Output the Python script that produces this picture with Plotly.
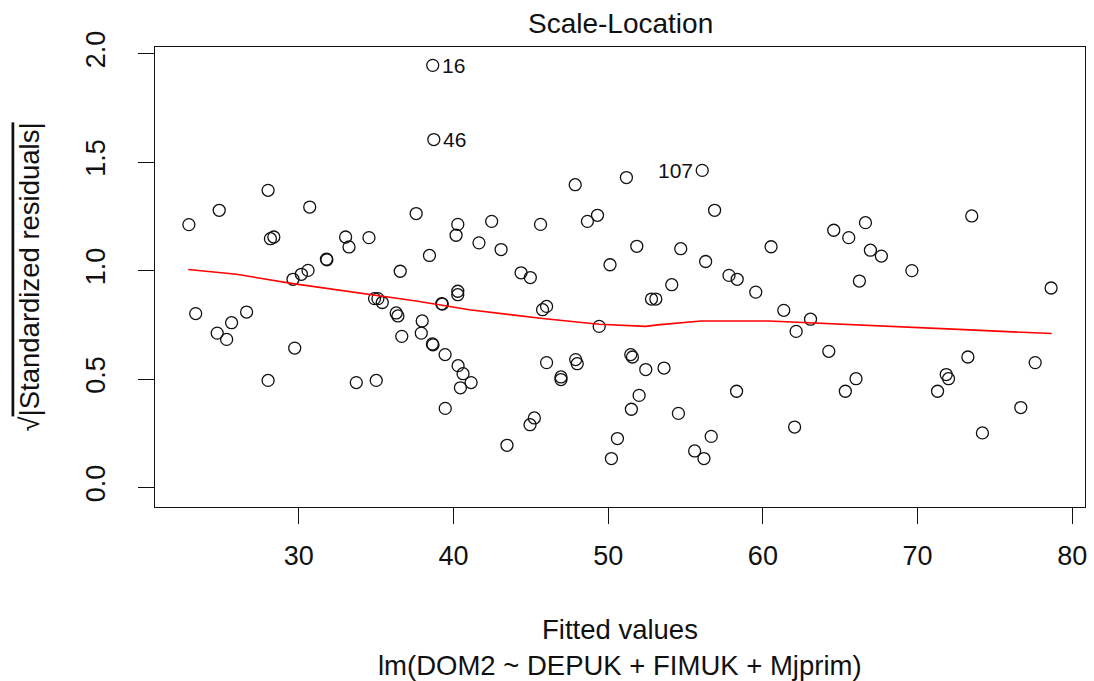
import plotly.graph_objects as go

# Fitted values (x) and sqrt(|standardized residuals|) (y)
fitted = [22.90, 23.34, 24.73, 24.86, 25.34, 25.66, 26.63, 28.02, 28.02, 28.17,
          28.39, 29.63, 29.74, 30.17, 30.60, 30.71, 31.79, 31.82, 33.03, 33.25,
          33.72, 34.54, 34.90, 35.01, 35.12, 35.40, 36.30, 36.41, 36.56, 36.66,
          37.59, 37.92, 37.98, 38.45, 38.64, 38.68, 38.66, 38.73, 39.24, 39.28,
          39.46, 39.47, 40.17, 40.28, 40.28, 40.28, 40.30, 40.45, 40.62, 41.14,
          41.65, 42.47, 43.08, 43.46, 44.37, 44.95, 44.97, 45.23, 45.63, 45.76,
          46.02, 46.02, 46.95, 46.95, 47.87, 47.90, 48.00, 48.66, 49.31, 49.42,
          50.12, 50.21, 50.60, 51.18, 51.46, 51.50, 51.57, 51.85, 52.00, 52.43,
          52.80, 53.08, 53.61, 54.11, 54.54, 54.69, 55.59, 56.08, 56.19, 56.30,
          56.66, 56.88, 57.81, 58.30, 58.34, 59.54, 60.53, 61.35, 62.05, 62.15,
          63.08, 64.26, 64.58, 65.33, 65.55, 66.02, 66.24, 66.63, 66.95, 67.66,
          69.63, 71.29, 71.85, 72.00, 73.25, 73.50, 74.19, 76.67, 77.60, 78.63]
sqrt_std_resid = [1.212, 0.802, 0.712, 1.278, 0.683, 0.760, 0.809, 1.370, 0.494, 1.147,
                  1.155, 0.960, 0.643, 0.983, 1.001, 1.293, 1.053, 1.050, 1.155, 1.109,
                  0.484, 1.152, 0.871, 0.494, 0.871, 0.853, 0.805, 0.791, 0.997, 0.697,
                  1.263, 0.712, 0.768, 1.070, 0.662, 0.658, 1.946, 1.604, 0.848, 0.846,
                  0.613, 0.365, 1.163, 1.213, 0.905, 0.889, 0.562, 0.460, 0.525, 0.484,
                  1.128, 1.227, 1.097, 0.195, 0.990, 0.290, 0.968, 0.321, 1.213, 0.820,
                  0.835, 0.576, 0.510, 0.498, 1.396, 0.590, 0.571, 1.227, 1.255, 0.743,
                  1.027, 0.134, 0.226, 1.429, 0.613, 0.361, 0.602, 1.112, 0.425, 0.544,
                  0.869, 0.869, 0.551, 0.935, 0.342, 1.101, 0.169, 1.462, 0.134, 1.042,
                  0.236, 1.278, 0.978, 0.444, 0.960, 0.901, 1.110, 0.817, 0.279, 0.720,
                  0.776, 0.628, 1.186, 0.444, 1.152, 0.502, 0.952, 1.221, 1.094, 1.067,
                  1.000, 0.444, 0.521, 0.502, 0.602, 1.252, 0.252, 0.369, 0.576, 0.920]

# Smoother (lowess) line
smooth_x = [22.86, 25.98, 29.63, 34.15, 37.59, 41.03, 45.76, 49.42, 52.43, 53.20,
            54.80, 56.00, 60.39, 65.33, 68.67, 72.65, 75.44, 78.67]
smooth_y = [1.005, 0.983, 0.940, 0.894, 0.860, 0.820, 0.779, 0.753, 0.743, 0.750,
            0.760, 0.768, 0.768, 0.751, 0.740, 0.729, 0.720, 0.710]

# Labelled observations
label_names = ["16", "46", "107"]
label_x = [38.66, 38.73, 56.08]
label_y = [1.946, 1.604, 1.462]
label_side = ["right", "right", "left"]

x_ticks = [30, 40, 50, 60, 70, 80]
y_ticks = [0.0, 0.5, 1.0, 1.5, 2.0]

FONT = "Liberation Sans, Arial, sans-serif"
INK = "#111111"

fig = go.Figure()
fig.add_trace(go.Scatter(
    x=fitted, y=sqrt_std_resid, mode="markers",
    marker=dict(symbol="circle-open", size=12, color=INK, line=dict(width=1.3, color=INK)),
    showlegend=False, hoverinfo="x+y"))
fig.add_trace(go.Scatter(
    x=smooth_x, y=smooth_y, mode="lines",
    line=dict(color="#ff0000", width=1.6), showlegend=False, hoverinfo="skip"))

annotations = []
for name, lx, ly, side in zip(label_names, label_x, label_y, label_side):
    annotations.append(dict(
        x=lx, y=ly, xref="x", yref="y", text=name, showarrow=False,
        xanchor="left" if side == "right" else "right",
        xshift=7 if side == "right" else -7, yshift=0,
        font=dict(family=FONT, size=21, color=INK)))

annotations.append(dict(
    x=0.5, y=1.0, xref="paper", yref="paper", yanchor="bottom", yshift=6,
    text="Scale-Location", showarrow=False,
    font=dict(family=FONT, size=28, color=INK)))
annotations.append(dict(
    x=0.5, y=-0.266, xref="paper", yref="paper", yanchor="middle",
    text="Fitted values", showarrow=False,
    font=dict(family=FONT, size=27.5, color=INK)))
annotations.append(dict(
    x=0.5, y=-0.345, xref="paper", yref="paper", yanchor="middle",
    text="lm(DOM2 ~ DEPUK + FIMUK + Mjprim)", showarrow=False,
    font=dict(family=FONT, size=27.5, color=INK)))
annotations.append(dict(
    x=-0.136, y=0.5, xref="paper", yref="paper", xanchor="center", yanchor="middle",
    textangle=-90,
    text='√<span style="text-decoration:overline">|Standardized residuals|</span>',
    showarrow=False, font=dict(family=FONT, size=27.5, color=INK)))

fig.update_layout(
    width=1094, height=681, autosize=False,
    margin=dict(l=155, r=7, t=47, b=174, pad=0),
    paper_bgcolor="white", plot_bgcolor="white",
    font=dict(family=FONT, color=INK),
    annotations=annotations,
    xaxis=dict(range=[20.71, 80.82], tickvals=x_ticks, ticktext=[str(v) for v in x_ticks],
               showgrid=False, zeroline=False, showline=True, mirror=True,
               linecolor=INK, linewidth=1.4, ticks="outside", ticklen=16, tickwidth=1.4,
               tickcolor=INK, tickfont=dict(family=FONT, size=27, color=INK),
               ticklabelstandoff=8),
    yaxis=dict(range=[-0.0894, 2.0306], tickvals=y_ticks,
               ticktext=["%.1f" % v for v in y_ticks], tickangle=-90,
               showgrid=False, zeroline=False, showline=True, mirror=True,
               linecolor=INK, linewidth=1.4, ticks="outside", ticklen=16, tickwidth=1.4,
               tickcolor=INK, tickfont=dict(family=FONT, size=27, color=INK),
               ticklabelstandoff=22),
)

fig.write_html("out.html")
